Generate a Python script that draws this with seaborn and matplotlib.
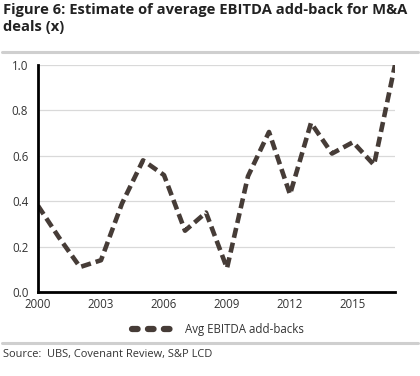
import matplotlib
matplotlib.use("Agg")
import matplotlib.pyplot as plt
import pandas as pd
import seaborn as sns
from matplotlib.lines import Line2D

years = list(range(2000, 2018))
addbacks = [0.38, 0.24, 0.11, 0.14, 0.39, 0.58, 0.515, 0.27, 0.35, 0.105,
            0.51, 0.705, 0.43, 0.745, 0.61, 0.66, 0.56, 1.0]
x_ticks = [2000, 2003, 2006, 2009, 2012, 2015]
y_ticks = [0.0, 0.2, 0.4, 0.6, 0.8, 1.0]

title = "Figure 6: Estimate of average EBITDA add-back for M&A\ndeals (x)"
series_label = "Avg EBITDA add-backs"
source = "Source:  UBS, Covenant Review, S&P LCD"

LINE_COLOR = "#463c37"
GRID_COLOR = "#d9d9d9"
TEXT_COLOR = "#333333"

df = pd.DataFrame({"year": years, "value": addbacks})

sns.set_theme(style="white")
plt.rcParams["font.family"] = ["Open Sans", "DejaVu Sans"]

fig = plt.figure(figsize=(4.2, 3.76), dpi=100)
ax = fig.add_axes([38 / 420, 1 - 292 / 376, (395 - 38) / 420, (292 - 65) / 376])

sns.lineplot(data=df, x="year", y="value", ax=ax, color=LINE_COLOR,
             linewidth=3.3, legend=False)
ax.lines[0].set_dashes((2.2, 1.1))

ax.set_xlim(2000, 2017)
ax.set_ylim(0, 1.0)
ax.set_xticks(x_ticks)
ax.set_yticks(y_ticks)
ax.set_yticklabels([f"{v:.1f}" for v in y_ticks])
ax.set_xlabel("")
ax.set_ylabel("")
ax.tick_params(axis="both", length=0, labelsize=8.3, colors=TEXT_COLOR)
ax.tick_params(axis="y", pad=7)
ax.tick_params(axis="x", pad=4)
ax.yaxis.grid(True, color=GRID_COLOR, linewidth=0.9)
ax.set_axisbelow(True)
for side in ["top", "right"]:
    ax.spines[side].set_visible(False)
for side in ["left", "bottom"]:
    ax.spines[side].set_color("black")
    ax.spines[side].set_linewidth(2)

# legend swatch: three fat rounded dashes like the original
handle = Line2D([], [], color=LINE_COLOR, linewidth=4.5, dashes=(0.9, 1.65),
                dash_capstyle="round")
fig.legend([handle], [series_label], loc="center", bbox_to_anchor=(218 / 420, 1 - 330 / 376),
           frameon=False, fontsize=8.3, handlelength=4.0, handletextpad=0.6,
           labelcolor=TEXT_COLOR)

fig.text(3 / 420, 1 - 3 / 376, title, ha="left", va="top", fontsize=10.6,
         fontweight="bold", color="#222222", linespacing=1.25)
fig.add_artist(Line2D([2 / 420, 418 / 420], [1 - 52 / 376] * 2, color="#cfcfcf", linewidth=2.2))
fig.add_artist(Line2D([2 / 420, 418 / 420], [1 - 343 / 376] * 2, color="#cfcfcf", linewidth=2.2))
fig.text(3 / 420, 1 - 355 / 376, source, ha="left", va="center", fontsize=7.9, color=TEXT_COLOR)

fig.savefig("out.png", dpi=100)
